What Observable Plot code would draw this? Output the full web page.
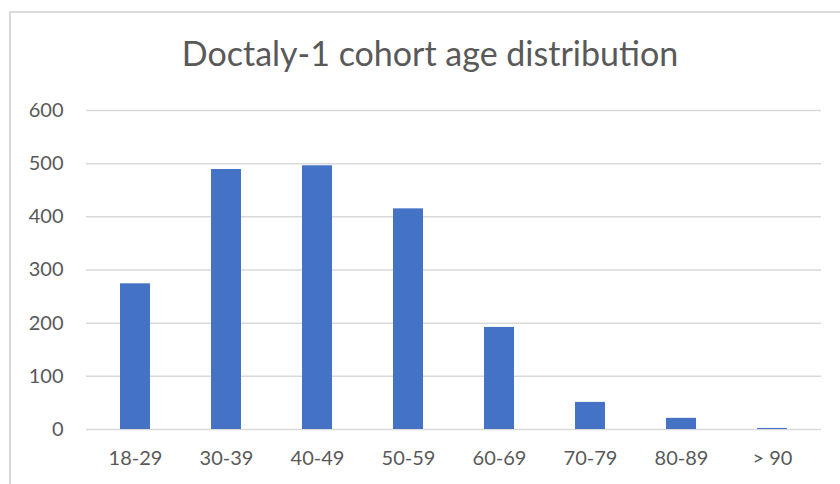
<!DOCTYPE html>
<html><head><meta charset="utf-8">
<script src="https://cdn.jsdelivr.net/npm/d3@7"></script>
<script src="https://cdn.jsdelivr.net/npm/@observablehq/plot@0.6"></script>
<style>
body{margin:0;background:#fff;font-family:Lato,sans-serif;overflow:hidden;}
#frame{position:absolute;left:9px;top:11px;width:840px;height:480px;border-left:2px solid #d9d9d9;border-top:2px solid #d9d9d9;box-sizing:border-box;}
#wrap{position:absolute;left:0;top:0;width:840px;}
#title{height:95px;box-sizing:border-box;padding-top:33px;padding-left:20px;text-align:center;font-size:34px;line-height:40px;color:#595959;white-space:nowrap;}
svg{display:block;}
</style></head><body>
<div id="frame"></div>
<div id="wrap"><div id="title">Doctaly-1 cohort age distribution</div><div id="chart"></div></div>
<script>
const categories = ["18-29","30-39","40-49","50-59","60-69","70-79","80-89","> 90"];
const counts = [274, 489, 496, 415, 192, 51, 21, 2];
const yTicks = [0,100,200,300,400,500,600];
const data = categories.map((c,i)=>({age:c, n:counts[i]}));
const chart = Plot.plot({
  width: 840, height: 389,
  marginTop: 15, marginBottom: 55, marginLeft: 86, marginRight: 19,
  style: {fontFamily: "Lato, sans-serif", fontSize: "20px", color: "#595959", background: "transparent"},
  x: {domain: categories, paddingInner: 0.67, paddingOuter: 0.335, label: null},
  y: {domain: [0,600], label: null},
  marks: [
    Plot.ruleY(yTicks, {stroke: "#d9d9d9", strokeWidth: 1.5, strokeOpacity: 1}),
    Plot.barY(data, {x: "age", y: "n", fill: "#4472C4"}),
    Plot.axisY(yTicks, {tickSize: 0, tickPadding: 23, fill: "#595959", fontSize: 20}),
    Plot.axisX({tickSize: 0, tickPadding: 21, fill: "#595959", fontSize: 20})
  ]
});
document.getElementById("chart").appendChild(chart);
</script>
</body></html>
